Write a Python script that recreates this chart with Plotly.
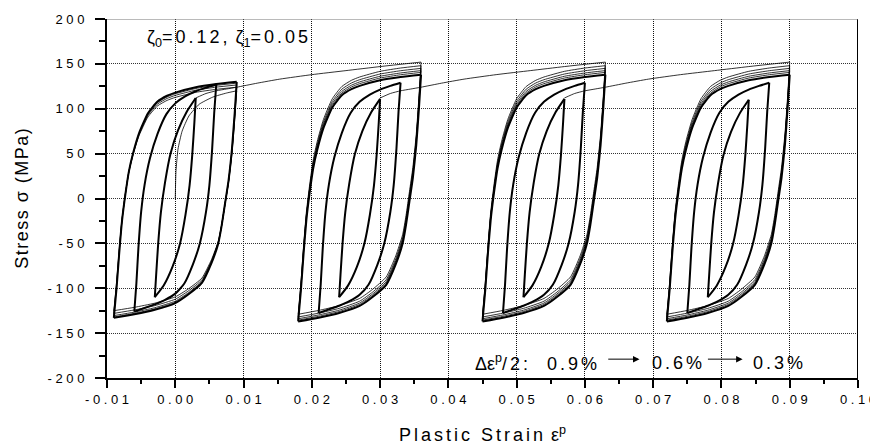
import plotly.graph_objects as go

# ---------------- data ----------------
# centre strain of each block of loops
group_centers = [0.0, 0.027, 0.054, 0.081]

# 0.9 % outer loop, block 1 (strain relative to block centre, stress MPa)
outer_up_x = [-0.0090, -0.0086, -0.0082, -0.0078, -0.0073, -0.0068, -0.0062, -0.0053,
              -0.0040, -0.0026, -0.0012, 0.0000, 0.0030, 0.0060, 0.0090]
outer_up_y = [-133, -100, -60, -25, 5, 30, 50, 73, 95, 108, 114.5, 118, 124, 127.5, 130]
outer_dn_x = [0.0090, 0.0087, 0.0083, 0.0078, 0.0073, 0.0068, 0.0063, 0.0053, 0.0039,
              0.0019, 0.0000, -0.0030, -0.0060, -0.0090]
outer_dn_y = [130, 95, 55, 20, -5, -30, -50, -72, -94, -107, -116.5, -124, -129, -133]

# 0.6 % loop
mid_up_x = [-0.0060, -0.0057, -0.0054, -0.0050, -0.0045, -0.0037, -0.0026, -0.0013,
            0.0000, 0.0015, 0.0030, 0.0045, 0.0060]
mid_up_y = [-126, -95, -55, -15, 15, 45, 72, 94, 106, 114, 119.5, 123.5, 127]
mid_dn_x = [0.0060, 0.0057, 0.0054, 0.0050, 0.0045, 0.0036, 0.0026, 0.0013, 0.0000,
            -0.0015, -0.0030, -0.0045, -0.0060]
mid_dn_y = [127, 95, 55, 15, -15, -50, -73, -95, -106, -113, -118, -122, -126]

# 0.3 % loop
inner_up_x = [-0.0030, -0.0028, -0.0025, -0.0021, -0.0015, -0.0007, 0.0004, 0.0017, 0.0030]
inner_up_y = [-110, -85, -50, -15, 18, 50, 76, 97, 112]
inner_dn_x = [0.0030, 0.0028, 0.0025, 0.0021, 0.0015, 0.0007, -0.0004, -0.0017, -0.0030]
inner_dn_y = [112, 85, 50, 15, -18, -50, -76, -97, -110]

# first monotonic loading of block 1
init_x = [0.0, 0.0001, 0.0004, 0.0010, 0.0020, 0.0035, 0.0055, 0.0075, 0.0090]
init_y = [0, 30, 55, 75, 92, 105, 113, 117.5, 120]

# reloading from the 0.3 % loop to the next block (relative to block centre)
trans_x = [0.0030, 0.0045, 0.0060, 0.0075, 0.0090, 0.0120, 0.0153, 0.0200, 0.0250, 0.0300, 0.0360]
trans_y = [112, 117, 120, 122, 124, 128.5, 133, 138, 142.5, 147, 152]

# reversal stresses of the transient (thin) 0.9 % cycles in each block
thin_reversals = [
    [120, -125, 124, -128, 126.5, -130.5, 128.5, -132],
    [152, -129, 148, -132, 145, -134, 142.5, -135.5, 140.5],
    [152, -129, 148, -132, 145, -134, 142.5, -135.5, 140.5],
    [152, -129, 148, -132, 145, -134, 142.5, -135.5, 140.5],
]
# stabilised (thick) loops: (bottom, top) stress for 0.9 %, 0.6 %, 0.3 %
outer_stable = [(-133, 130), (-137, 138), (-137, 138), (-137, 138)]
mid_stable = [(-126, 127), (-127.6, 129), (-127.6, 129), (-127.6, 129)]
inner_stable = [(-110, 112), (-110, 111), (-110, 111), (-110, 110)]

x_tick_vals = [-0.01, 0.00, 0.01, 0.02, 0.03, 0.04, 0.05, 0.06, 0.07, 0.08, 0.09, 0.10]
x_tick_labels = ["-0.01", "0.00", "0.01", "0.02", "0.03", "0.04", "0.05", "0.06",
                 "0.07", "0.08", "0.09", "0.10"]
x_minor_vals = [-0.005, 0.005, 0.015, 0.025, 0.035, 0.045, 0.055, 0.065, 0.075, 0.085, 0.095]
y_tick_vals = [-200, -150, -100, -50, 0, 50, 100, 150, 200]
y_tick_labels = ["-200", "-150", "-100", "-50", "0", "50", "100", "150", "200"]
y_minor_vals = [-175, -125, -75, -25, 25, 75, 125, 175]

# ---------------- build the curves ----------------
def branch(sx, sy, center, y_start, y_end):
    s0, s1 = sy[0], sy[-1]
    k = (y_end - y_start) / (s1 - s0)
    return [center + v for v in sx], [y_start + (v - s0) * k for v in sy]

thin_x, thin_y, thick_x, thick_y = [], [], [], []

def add(xs, ys, thick):
    tx, ty = (thick_x, thick_y) if thick else (thin_x, thin_y)
    tx.extend(xs + [None])
    ty.extend(ys + [None])

for g, c in enumerate(group_centers):
    if g == 0:
        add([c + v for v in init_x], list(init_y), False)
    rev = thin_reversals[g]
    for a, b in zip(rev[:-1], rev[1:]):
        if a > b:
            add(*branch(outer_dn_x, outer_dn_y, c, a, b), False)
        else:
            add(*branch(outer_up_x, outer_up_y, c, a, b), False)
    lo, hi = outer_stable[g]
    add(*branch(outer_up_x, outer_up_y, c, lo, hi), True)
    add(*branch(outer_dn_x, outer_dn_y, c, hi, lo), True)
    lo, hi = mid_stable[g]
    add(*branch(mid_up_x, mid_up_y, c, lo, hi), True)
    add(*branch(mid_dn_x, mid_dn_y, c, hi, lo), True)
    lo, hi = inner_stable[g]
    add(*branch(inner_up_x, inner_up_y, c, lo, hi), True)
    add(*branch(inner_dn_x, inner_dn_y, c, hi, lo), True)
    if g < len(group_centers) - 1:
        add([c + v for v in trans_x], list(trans_y), False)

SP = "\u00a0"   # letter spacing used for tick labels
LS = "\u2006"   # letter spacing used for titles / notes

def spaced(s, sp):
    return sp.join(list(s))

FONT = "Liberation Sans, Arial, sans-serif"

fig = go.Figure()
fig.add_trace(go.Scatter(x=thin_x, y=thin_y, mode="lines",
                         line=dict(color="black", width=0.8, shape="spline", smoothing=0.5),
                         showlegend=False, hoverinfo="skip"))
fig.add_trace(go.Scatter(x=thick_x, y=thick_y, mode="lines",
                         line=dict(color="black", width=2.0, shape="spline", smoothing=0.5),
                         showlegend=False, hoverinfo="skip"))

# the page body adds an 8 px offset, so the figure is 8 px smaller than the window
fig.update_layout(
    width=870, height=438,
    margin=dict(l=99, r=20, t=11, b=68, autoexpand=False),
    paper_bgcolor="white", plot_bgcolor="white",
    font=dict(family=FONT, color="black", size=13),
    xaxis=dict(
        range=[-0.01, 0.10], tickmode="array", tickvals=x_tick_vals,
        ticktext=[spaced(t, SP) for t in x_tick_labels], automargin=False,
        ticks="outside", ticklen=8, tickwidth=1.5, tickcolor="black",
        showline=True, linecolor="black", linewidth=2, zeroline=False,
        showgrid=True, gridcolor="#111111", griddash="1px,1px", gridwidth=1,
        minor=dict(tickvals=x_minor_vals, ticks="outside", ticklen=4, tickwidth=1.5,
                   tickcolor="black", showgrid=False),
        tickfont=dict(size=13, family=FONT),
        title=dict(text=spaced("Plastic Strain ", LS) + "ε<sup>p</sup>",
                   font=dict(size=18, family=FONT), standoff=23),
    ),
    yaxis=dict(
        range=[-200, 200], tickmode="array", tickvals=y_tick_vals,
        ticktext=[spaced(t, SP) for t in y_tick_labels], automargin=False,
        ticks="outside", ticklen=10, tickwidth=1.5, tickcolor="black",
        ticklabelstandoff=8,
        showline=True, linecolor="black", linewidth=2, zeroline=False,
        showgrid=True, gridcolor="#333333", griddash="1px,1px", gridwidth=1,
        minor=dict(tickvals=y_minor_vals, ticks="outside", ticklen=6, tickwidth=1.5,
                   tickcolor="black", showgrid=False),
        tickfont=dict(size=13, family=FONT),
        title=dict(text="\u200a".join(list("Stress σ (MPa)")),
                   font=dict(size=18, family=FONT), standoff=14),
    ),
    shapes=[
        dict(type="line", xref="x", yref="y", x0=0.10, x1=0.10, y0=-200, y1=200,
             line=dict(color="black", width=2)),
        dict(type="line", xref="x", yref="y", x0=-0.01, x1=0.10, y0=200, y1=200,
             line=dict(color="#777777", width=1)),
    ],
)

note_font = dict(size=18, family=FONT, color="black")
fig.add_annotation(x=-0.0044, y=178, xref="x", yref="y", xanchor="left", yanchor="middle",
                   showarrow=False, font=note_font,
                   text="ζ<sub>0</sub>" + spaced("=0.12, ", LS) + "ζ<sub>1</sub>" + spaced("=0.05", LS))
fig.add_annotation(x=0.0436, y=-183, xref="x", yref="y", xanchor="left", yanchor="middle",
                   showarrow=False, font=note_font,
                   text="Δε<sup>p</sup>" + spaced("/2:  0.9%", LS))
fig.add_annotation(x=0.0695, y=-183, xref="x", yref="y", xanchor="left", yanchor="middle",
                   showarrow=False, font=note_font, text=spaced("0.6%", LS))
fig.add_annotation(x=0.0844, y=-183, xref="x", yref="y", xanchor="left", yanchor="middle",
                   showarrow=False, font=note_font, text=spaced("0.3%", LS))
for x0, x1 in [(0.0632, 0.0680), (0.0778, 0.0831)]:
    fig.add_annotation(x=x1, y=-179, ax=x0, ay=-179, xref="x", yref="y", axref="x", ayref="y",
                       text="", showarrow=True, arrowhead=2, arrowsize=1.3, arrowwidth=1,
                       arrowcolor="black")

fig.write_html("out.html")
